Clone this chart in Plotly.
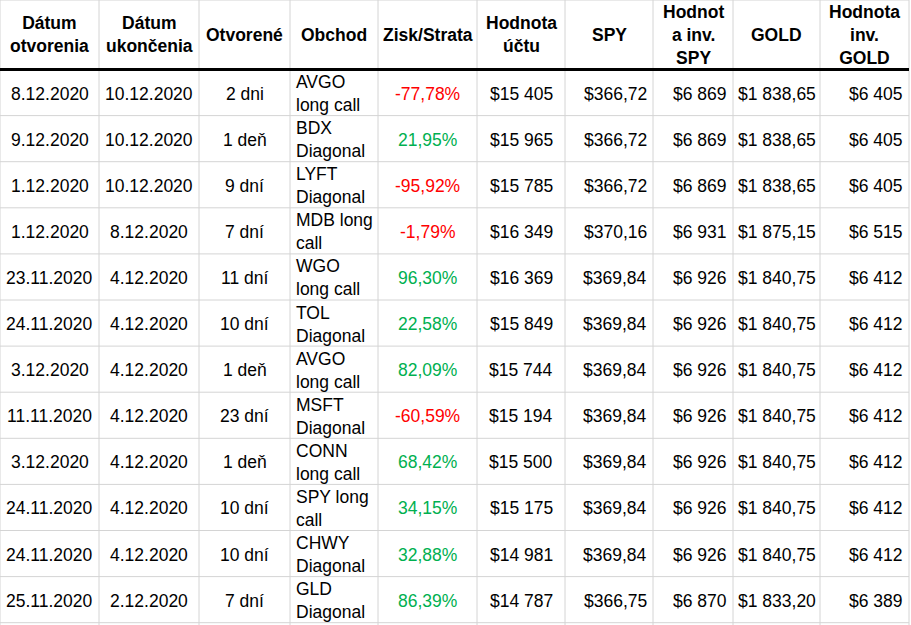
import plotly.graph_objects as go

# %% Data
headers = ["Dátum<br>otvorenia", "Dátum<br>ukončenia", "Otvorené", "Obchod", "Zisk/Strata",
           "Hodnota<br>účtu", "SPY", "Hodnot<br>a inv.<br>SPY", "GOLD", "Hodnota<br>inv.<br>GOLD"]

date_open = ["8.12.2020", "9.12.2020", "1.12.2020", "1.12.2020", "23.11.2020", "24.11.2020",
             "3.12.2020", "11.11.2020", "3.12.2020", "24.11.2020", "24.11.2020", "25.11.2020"]
date_close = ["10.12.2020", "10.12.2020", "10.12.2020", "8.12.2020", "4.12.2020", "4.12.2020",
              "4.12.2020", "4.12.2020", "4.12.2020", "4.12.2020", "4.12.2020", "2.12.2020"]
days_open = ["2 dni", "1 deň", "9 dní", "7 dní", "11 dní", "10 dní",
             "1 deň", "23 dní", "1 deň", "10 dní", "10 dní", "7 dní"]
trades = ["AVGO<br>long call", "BDX<br>Diagonal", "LYFT<br>Diagonal", "MDB long<br>call",
          "WGO<br>long call", "TOL<br>Diagonal", "AVGO<br>long call", "MSFT<br>Diagonal",
          "CONN<br>long call", "SPY long<br>call", "CHWY<br>Diagonal", "GLD<br>Diagonal"]
pnl_pct = [-77.78, 21.95, -95.92, -1.79, 96.30, 22.58, 82.09, -60.59, 68.42, 34.15, 32.88, 86.39]
account_value = [15405, 15965, 15785, 16349, 16369, 15849, 15744, 15194, 15500, 15175, 14981, 14787]
spy = [366.72, 366.72, 366.72, 370.16, 369.84, 369.84, 369.84, 369.84, 369.84, 369.84, 369.84, 366.75]
spy_inv = [6869, 6869, 6869, 6931, 6926, 6926, 6926, 6926, 6926, 6926, 6926, 6870]
gold = [1838.65, 1838.65, 1838.65, 1875.15, 1840.75, 1840.75, 1840.75, 1840.75, 1840.75,
        1840.75, 1840.75, 1833.20]
gold_inv = [6405, 6405, 6405, 6515, 6412, 6412, 6412, 6412, 6412, 6412, 6412, 6389]


def sk_num(v, dec=0):
    # slovak format: space for thousands, comma for decimals
    s = f"{v:,.{dec}f}".replace(",", " ").replace(".", ",")
    return s


columns = [
    date_open,
    date_close,
    days_open,
    trades,
    [sk_num(v, 2) + "%" for v in pnl_pct],
    ["$" + sk_num(v) for v in account_value],
    ["$" + sk_num(v, 2) for v in spy],
    ["$" + sk_num(v) for v in spy_inv],
    ["$" + sk_num(v, 2) for v in gold],
    ["$" + sk_num(v) for v in gold_inv],
]
aligns = ["center", "center", "center", "left", "center", "center", "right", "right", "center", "right"]
pnl_colors = ["#ff0000" if v < 0 else "#00b050" for v in pnl_pct]

# %% Geometry (pixels)
W, H = 911, 625
col_widths = [99, 100, 91, 88, 99, 88, 88, 80, 87, 89]
header_h = 69.5
row_h = 46.1
pad = 4
font_family = "Arial, Liberation Sans, sans-serif"
font_size = 17.5
grid_color = "#d4d4d4"

edges = [0]
for w in col_widths:
    edges.append(edges[-1] + w)
n_rows = len(date_open)

fig = go.Figure()
shapes = []
annotations = []

# grid lines
for x in edges:
    shapes.append(dict(type="line", x0=x, x1=x, y0=0, y1=H, xref="x", yref="y",
                       line=dict(color=grid_color, width=1)))
for i in range(n_rows + 1):
    y = header_h + i * row_h
    shapes.append(dict(type="line", x0=0, x1=edges[-1], y0=y, y1=y, xref="x", yref="y",
                       line=dict(color=grid_color, width=1)))
shapes.append(dict(type="line", x0=0, x1=edges[-1], y0=0, y1=0, xref="x", yref="y",
                   line=dict(color=grid_color, width=1)))
# thick rule under the header
shapes.append(dict(type="line", x0=0, x1=edges[-1], y0=header_h, y1=header_h, xref="x", yref="y",
                   line=dict(color="black", width=3)))

# header
for c, h in enumerate(headers):
    annotations.append(dict(x=(edges[c] + edges[c + 1]) / 2, y=header_h / 2, text=f"<b>{h}</b>",
                            xref="x", yref="y", showarrow=False, xanchor="center", yanchor="middle",
                            font=dict(family=font_family, size=font_size, color="black")))

# body cells
for c, col in enumerate(columns):
    for r, txt in enumerate(col):
        yc = header_h + (r + 0.5) * row_h
        if aligns[c] == "left":
            x, xa = edges[c] + pad, "left"
        elif aligns[c] == "right":
            x, xa = edges[c + 1] - pad, "right"
        else:
            x, xa = (edges[c] + edges[c + 1]) / 2, "center"
        color = pnl_colors[r] if c == 4 else "black"
        annotations.append(dict(x=x, y=yc, text=txt, xref="x", yref="y", showarrow=False,
                                xanchor=xa, yanchor="middle", align=aligns[c], yshift=-1,
                                font=dict(family=font_family, size=font_size, color=color)))

fig.update_layout(
    width=W, height=H,
    margin=dict(l=0, r=0, t=0, b=0),
    paper_bgcolor="white", plot_bgcolor="white",
    xaxis=dict(range=[0, W], visible=False, fixedrange=True),
    yaxis=dict(range=[H, 0], visible=False, fixedrange=True),
    shapes=shapes, annotations=annotations,
    showlegend=False,
)

# page body has a default 8px margin; drop it so the table sits at the top-left corner
fig.write_html("out.html", config={"displayModeBar": False},
               post_script="document.body.style.margin = '0';")
